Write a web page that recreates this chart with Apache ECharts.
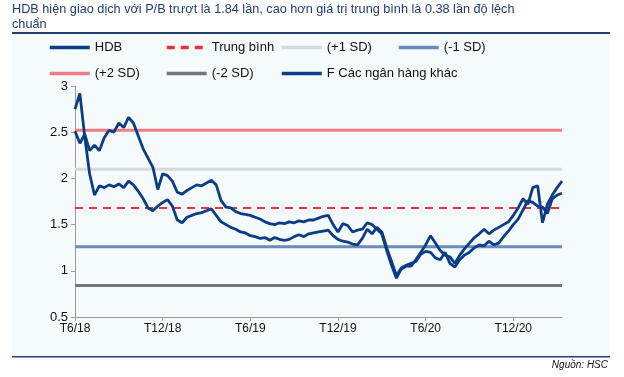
<!DOCTYPE html>
<html>
<head>
<meta charset="utf-8">
<script src="https://cdn.jsdelivr.net/npm/echarts@6/dist/echarts.min.js"></script>
<style>
  html, body { margin: 0; padding: 0; background: #ffffff; }
  #main { width: 624px; height: 377px; }
</style>
</head>
<body>
<div id="main"></div>
<script>
// P/B trượt, mỗi điểm ~ 1/3 tháng, từ T6/18 đến giữa T3/21
var tickLabels = ['T6/18', 'T12/18', 'T6/19', 'T12/19', 'T6/20', 'T12/20'];

var hdb = [
    2.75, 2.92, 2.45, 2.05, 1.82, 1.92, 1.90, 1.93, 1.91, 1.94,
    1.90, 1.97, 1.93, 1.86, 1.78, 1.68, 1.65, 1.70, 1.74, 1.77,
    1.70, 1.55, 1.52, 1.58, 1.60, 1.62, 1.63, 1.65, 1.67, 1.60,
    1.53, 1.50, 1.47, 1.45, 1.42, 1.41, 1.38, 1.37, 1.35, 1.36,
    1.33, 1.36, 1.34, 1.33, 1.34, 1.37, 1.39, 1.37, 1.40, 1.41,
    1.42, 1.43, 1.44, 1.38, 1.34, 1.32, 1.31, 1.29, 1.28, 1.35,
    1.45, 1.40, 1.47, 1.42, 1.25, 1.10, 0.95, 1.03, 1.06, 1.08,
    1.10, 1.18, 1.21, 1.20, 1.14, 1.12, 1.20, 1.08, 1.04, 1.12,
    1.17, 1.20, 1.25, 1.28, 1.27, 1.32, 1.28, 1.30, 1.37, 1.43,
    1.50, 1.56, 1.66, 1.76, 1.74, 1.70, 1.69, 1.62, 1.78, 1.82,
    1.84
];

var others = [
    2.51, 2.38, 2.48, 2.30, 2.36, 2.30, 2.44, 2.52, 2.50, 2.60,
    2.55, 2.66, 2.60, 2.46, 2.32, 2.22, 2.12, 1.88, 2.05, 2.03,
    1.97, 1.85, 1.83, 1.87, 1.90, 1.93, 1.92, 1.95, 1.98, 1.93,
    1.76, 1.69, 1.68, 1.64, 1.62, 1.61, 1.60, 1.58, 1.56, 1.53,
    1.51, 1.50, 1.52, 1.51, 1.53, 1.52, 1.54, 1.53, 1.55, 1.55,
    1.57, 1.59, 1.60, 1.50, 1.42, 1.51, 1.49, 1.42, 1.44, 1.45,
    1.52, 1.50, 1.45, 1.40, 1.22, 1.06, 0.92, 1.02, 1.05, 1.05,
    1.12, 1.20, 1.28, 1.38, 1.30, 1.22, 1.17, 1.15, 1.08, 1.17,
    1.24, 1.30, 1.36, 1.40, 1.45, 1.40, 1.44, 1.47, 1.50, 1.53,
    1.60, 1.68, 1.78, 1.72, 1.90, 1.92, 1.52, 1.72, 1.82, 1.90,
    1.97
];

var trungBinh = 1.68;
var sdPlus1 = 2.10;
var sdMinus1 = 1.26;
var sdPlus2 = 2.52;
var sdMinus2 = 0.84;

var categories = hdb.map(function (v, i) {
    return i % 18 === 0 ? tickLabels[i / 18] : '';
});

function flat(v) {
    return hdb.map(function () { return v; });
}

// mỗi mục chú thích đặt riêng một chỗ như hình gốc
function legendAt(name, left, top) {
    return {
        data: [name],
        left: left,
        top: top,
        padding: 0,
        itemWidth: 40,
        itemHeight: 3,
        itemGap: 4,
        lineStyle: { width: 3.5 },
        textStyle: { fontSize: 13, color: '#111', fontFamily: 'Liberation Sans' }
    };
}

var myChart = echarts.init(document.getElementById('main'));

var option = {
    backgroundColor: '#ffffff',
    animation: false,
    textStyle: { fontFamily: 'Liberation Sans' },
    graphic: [
        { type: 'rect', shape: { x: 12, y: 34, width: 598, height: 322 }, style: { fill: '#f5fbfd' }, z: -10 },
        { type: 'rect', shape: { x: 12, y: 32, width: 598, height: 2 }, style: { fill: '#1f3f75' } },
        { type: 'rect', shape: { x: 12, y: 356, width: 598, height: 1.5 }, style: { fill: '#1f3f75' } },
        {
            type: 'text', right: 16, top: 360,
            style: { text: 'Nguồn: HSC', font: 'italic 10px "Liberation Sans"', fill: '#111' }
        }
    ],
    title: {
        text: 'HDB hiện giao dịch với P/B trượt là 1.84 lần, cao hơn giá trị trung bình là 0.38 lần độ lệch\nchuẩn',
        left: 8,
        top: 2,
        padding: [0, 0, 0, 4],
        textStyle: {
            fontSize: 12.7,
            fontWeight: 'normal',
            color: '#1f3c78',
            lineHeight: 15,
            fontFamily: 'Liberation Sans'
        }
    },
    legend: [
        legendAt('HDB', 48, 41),
        legendAt('Trung bình', 165, 41),
        legendAt('(+1 SD)', 280, 41),
        legendAt('(-1 SD)', 397, 41),
        legendAt('(+2 SD)', 48, 67),
        legendAt('(-2 SD)', 165, 67),
        legendAt('F Các ngân hàng khác', 280, 67)
    ],
    grid: { left: 75, right: 62, top: 86, bottom: 60 },
    xAxis: {
        type: 'category',
        data: categories,
        boundaryGap: false,
        axisLine: { lineStyle: { color: '#9a9a9a', width: 1 } },
        axisTick: {
            interval: function (i) { return i % 18 === 0; },
            length: 4,
            lineStyle: { color: '#9a9a9a' }
        },
        axisLabel: { interval: 0, color: '#111', fontSize: 12, margin: 6 },
        splitLine: { show: false }
    },
    yAxis: {
        type: 'value',
        min: 0.5,
        max: 3,
        interval: 0.5,
        axisLine: { show: true, lineStyle: { color: '#9a9a9a', width: 1 } },
        axisTick: { show: true, length: 4, inside: false, lineStyle: { color: '#9a9a9a' } },
        axisLabel: { color: '#111', fontSize: 13, margin: 7 },
        splitLine: { show: false }
    },
    series: [
        {
            name: '(+2 SD)', type: 'line', data: flat(sdPlus2), symbol: 'none',
            lineStyle: { color: '#f27c82', width: 3 }, itemStyle: { color: '#f27c82' }, z: 1
        },
        {
            name: '(+1 SD)', type: 'line', data: flat(sdPlus1), symbol: 'none',
            lineStyle: { color: '#d4d9df', width: 3 }, itemStyle: { color: '#d4d9df' }, z: 1
        },
        {
            name: 'Trung bình', type: 'line', data: flat(trungBinh), symbol: 'none',
            lineStyle: { color: '#e8333d', width: 2, type: [8, 6] }, itemStyle: { color: '#e8333d' }, z: 1
        },
        {
            name: '(-1 SD)', type: 'line', data: flat(sdMinus1), symbol: 'none',
            lineStyle: { color: '#6a8bbb', width: 3 }, itemStyle: { color: '#6a8bbb' }, z: 1
        },
        {
            name: '(-2 SD)', type: 'line', data: flat(sdMinus2), symbol: 'none',
            lineStyle: { color: '#767676', width: 3 }, itemStyle: { color: '#767676' }, z: 1
        },
        {
            name: 'HDB', type: 'line', data: hdb, symbol: 'none',
            lineStyle: { color: '#0b3d87', width: 2.8 }, itemStyle: { color: '#0b3d87' }, z: 3
        },
        {
            name: 'F Các ngân hàng khác', type: 'line', data: others, symbol: 'none',
            lineStyle: { color: '#0b3d87', width: 2.8 }, itemStyle: { color: '#0b3d87' }, z: 3
        }
    ]
};

myChart.setOption(option);
</script>
</body>
</html>
